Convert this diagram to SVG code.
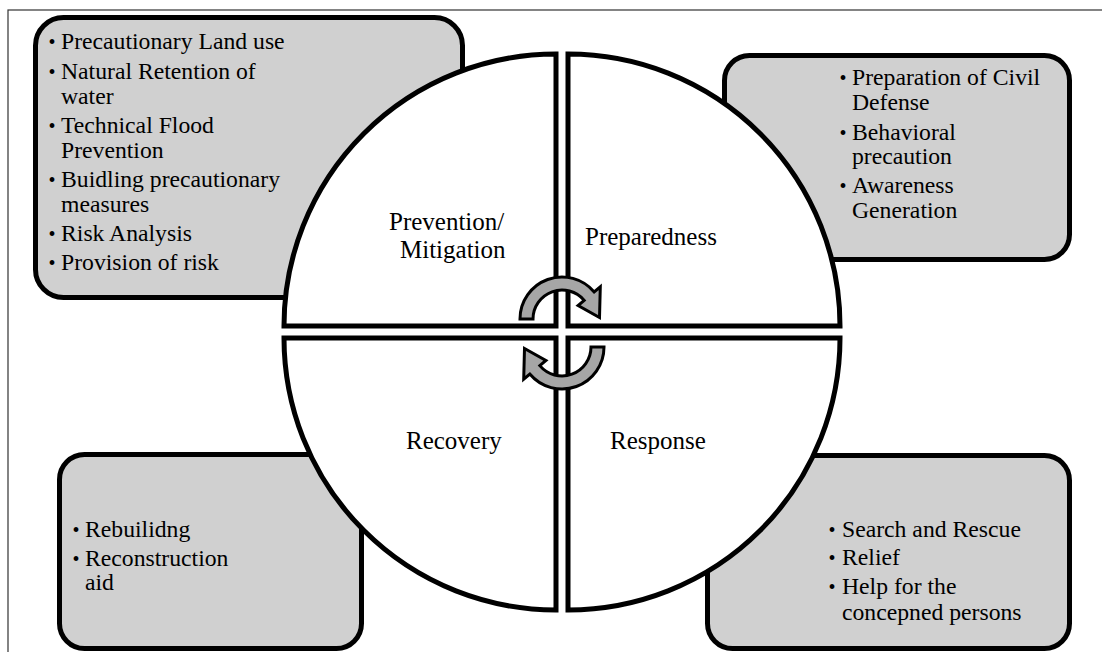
<svg xmlns="http://www.w3.org/2000/svg" width="1102" height="652" viewBox="0 0 1102 652">
  <style>
    .frame { fill: none; stroke: #333333; stroke-width: 1.2; }
    .box { fill: #D0D0D0; stroke: #000000; stroke-width: 5; }
    .quad { fill: #FFFFFF; stroke: #000000; stroke-width: 5; stroke-linejoin: miter; }
    .arrow { fill: #A6A6A6; stroke: #000000; stroke-width: 3; stroke-linejoin: miter; }
    text { font-family: 'Liberation Serif', 'Times New Roman', Times, 'DejaVu Serif', serif; fill: #000000; }
    .t { font-size: 23.7px; }
    .b { font-size: 20px; text-anchor: middle; }
    .lbl { font-size: 25px; }
  </style>
  <defs>
    <path id="circArrow" d="M -42,0 A 42 42 0 0 1 32.2,-27 L 38.3,-32.1 L 37.5,-1.5 L 16.1,-13.5 L 22.2,-18.6 A 29 29 0 0 0 -29,0 Z"/>
  </defs>

  <rect class="frame" x="8" y="10" width="1110" height="700"/>

  <g id="box-prevention">
    <rect class="box" x="35.5" y="17.5" width="427" height="280" rx="28" ry="28"/>
    <text class="b" x="52" y="49">•</text><text class="t" x="61" y="49">Precautionary Land use</text>
    <text class="b" x="52" y="78.5">•</text><text class="t" x="61" y="78.5">Natural Retention of</text>
    <text class="t" x="61" y="103.5">water</text>
    <text class="b" x="52" y="132.5">•</text><text class="t" x="61" y="132.5">Technical Flood</text>
    <text class="t" x="61" y="157.5">Prevention</text>
    <text class="b" x="52" y="186.5">•</text><text class="t" x="61" y="186.5">Buidling precautionary</text>
    <text class="t" x="61" y="211.5">measures</text>
    <text class="b" x="52" y="240.5">•</text><text class="t" x="61" y="240.5">Risk Analysis</text>
    <text class="b" x="52" y="270">•</text><text class="t" x="61" y="270">Provision of risk</text>
  </g>

  <g id="box-preparedness">
    <rect class="box" x="724.5" y="55.5" width="345" height="204" rx="25" ry="25"/>
    <text class="b" x="843" y="85">•</text><text class="t" x="852" y="85">Preparation of Civil</text>
    <text class="t" x="852" y="110">Defense</text>
    <text class="b" x="843" y="140">•</text><text class="t" x="852" y="140">Behavioral</text>
    <text class="t" x="852" y="164">precaution</text>
    <text class="b" x="843" y="193">•</text><text class="t" x="852" y="193">Awareness</text>
    <text class="t" x="852" y="218">Generation</text>
  </g>

  <g id="box-recovery">
    <rect class="box" x="59.5" y="454.5" width="302" height="194" rx="25" ry="25"/>
    <text class="b" x="76" y="537">•</text><text class="t" x="85" y="537">Rebuilidng</text>
    <text class="b" x="76" y="566">•</text><text class="t" x="85" y="566">Reconstruction</text>
    <text class="t" x="85" y="590">aid</text>
  </g>

  <g id="box-response">
    <rect class="box" x="707.5" y="455.5" width="362" height="193" rx="25" ry="25"/>
    <text class="b" x="832" y="537">•</text><text class="t" x="842" y="537">Search and Rescue</text>
    <text class="b" x="832" y="565">•</text><text class="t" x="842" y="565">Relief</text>
    <text class="b" x="832" y="594">•</text><text class="t" x="842" y="594">Help for the</text>
    <text class="t" x="842" y="620">concepned persons</text>
  </g>

  <g id="quad-prevention">
    <path class="quad" d="M556,326 L284,326 A272,272 0 0 1 556,54 Z"/>
    <text class="lbl" x="389" y="230">Prevention/</text>
    <text class="lbl" x="400" y="258">Mitigation</text>
  </g>
  <g id="quad-preparedness">
    <path class="quad" d="M568,326 L568,54 A272,272 0 0 1 840,326 Z"/>
    <text class="lbl" x="585" y="245">Preparedness</text>
  </g>
  <g id="quad-recovery">
    <path class="quad" d="M556,338 L556,610 A272,272 0 0 1 284,338 Z"/>
    <text class="lbl" x="406" y="449">Recovery</text>
  </g>
  <g id="quad-response">
    <path class="quad" d="M568,338 L840,338 A272,272 0 0 1 568,610 Z"/>
    <text class="lbl" x="610" y="449">Response</text>
  </g>

  <g id="connectors">
    <use href="#circArrow" class="arrow" transform="translate(562,319)"/>
    <use href="#circArrow" class="arrow" transform="translate(562,347) rotate(180)"/>
  </g>
</svg>
